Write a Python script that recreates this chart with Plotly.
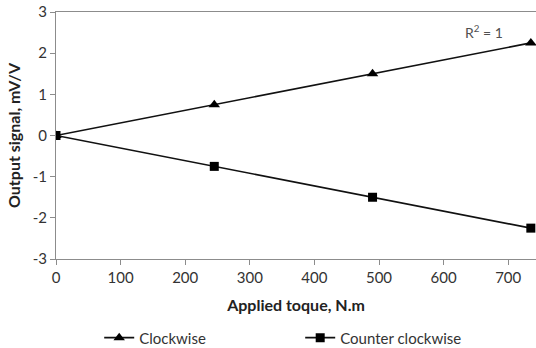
import plotly.graph_objects as go

torque = [0, 245, 490, 735]
clockwise = [0, 0.75, 1.5, 2.25]
counter_clockwise = [0, -0.75, -1.5, -2.25]
x_ticks = [0, 100, 200, 300, 400, 500, 600, 700]
y_ticks = [-3, -2, -1, 0, 1, 2, 3]
y_tick_text = ["-3", "-2", "-1", "0", "1", "2", "3"]

FONT = "Lato"
fig = go.Figure()
fig.add_trace(go.Scatter(x=torque, y=clockwise, mode="lines+markers", name="Clockwise",
                         line=dict(color="#111111", width=1.6),
                         marker=dict(symbol="triangle-up", size=10, color="#000000")))
fig.add_trace(go.Scatter(x=torque, y=counter_clockwise, mode="lines+markers", name="Counter clockwise",
                         line=dict(color="#111111", width=1.6),
                         marker=dict(symbol="square", size=9, color="#000000")))

fig.add_annotation(x=663, y=2.52, text="R<sup>2</sup> = 1", showarrow=False,
                   font=dict(family=FONT, size=14, color="#505050"), xref="x", yref="y")

axis_common = dict(showgrid=False, zeroline=False, showline=True, linecolor="#8c8c8c",
                   linewidth=1, ticks="outside", ticklen=5, tickcolor="#8c8c8c",
                   tickfont=dict(family=FONT, size=15, color="#333333"))
fig.update_layout(
    width=536, height=348,
    margin=dict(l=56, r=0, t=12, b=89),
    plot_bgcolor="white", paper_bgcolor="white",
    xaxis=dict(range=[0, 743], tickvals=x_ticks, mirror=True,
               title=dict(text="<b>Applied toque, N.m</b>", font=dict(family=FONT, size=16, color="#222222"), standoff=14),
               **axis_common),
    yaxis=dict(range=[-3, 3], tickvals=y_ticks, ticktext=y_tick_text,
               title=dict(text="<b>Output signal, mV/V</b>", font=dict(family=FONT, size=16, color="#222222"), standoff=8),
               **axis_common),
    legend=dict(orientation="h", x=0.09, xanchor="left", yref="container", y=0.029, yanchor="middle",
                font=dict(family=FONT, size=15, color="#333333"),
                entrywidth=156, entrywidthmode="pixels", bgcolor="rgba(0,0,0,0)"),
    showlegend=True,
)
fig.write_html("out.html")
